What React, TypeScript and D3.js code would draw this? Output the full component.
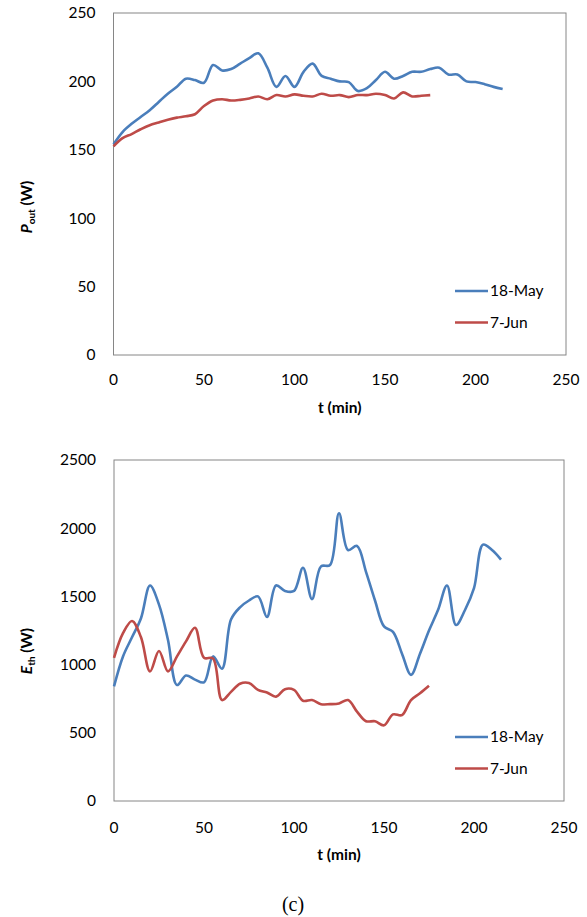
import React from "react";
import * as d3 from "d3";

const tTop = [0,5,10,15,20,25,30,35,40,45,50,55,60,65,70,75,80,85,90,95,100,105,110,115,120,125,130,135,140,145,150,155,160,165,170,175,180,185,190,195,200,205,210,215];
const pMay = [154,163,169,174,179,185,191,196,202,201,199,212,208,209,213,217,220.5,210,196,204,196,207,213,204,202,200,199.5,193,195,201,207,202,204,207,207,209,210,205,205,200,199.5,198,196,194.5];
const tJun = [0,5,10,15,20,25,30,35,40,45,50,55,60,65,70,75,80,85,90,95,100,105,110,115,120,125,130,135,140,145,150,155,160,165,170,175];
const pJun = [152.5,158.5,161.5,165,168,170,172,173.5,174.5,176,182,186,187,186,186.5,187.5,189,187,190,189,190.5,189.5,189,191,189.5,190,188.5,190,190,191,190,187.5,192,189,189.5,190];

const eMay = [840,1060,1200,1340,1580,1440,1180,850,920,890,870,1060,970,1330,1420,1470,1500,1350,1580,1540,1540,1710,1480,1720,1730,2110,1840,1870,1680,1470,1280,1240,1080,925,1080,1250,1400,1580,1290,1400,1560,1880,1840,1770];
const eJun = [1050,1230,1320,1200,950,1100,950,1060,1170,1270,1050,1045,740,800,860,865,815,795,765,820,815,735,740,710,710,715,740,655,585,585,555,635,630,740,790,845];

const xTicks = [0,50,100,150,200,250];
const yTicksTop = [0,50,100,150,200,250];
const yTicksBot = [0,500,1000,1500,2000,2500];
const seriesNames = ["18-May","7-Jun"];
const colors = ["#4A7EBB","#BE4B48"];

const FONT = "Lato, 'Open Sans', sans-serif";

function Panel({ top, bottom, left, right, yMax, yTicks, s1, s2, yLabelMain, yLabelSub, yLabelY, legendY, xLabelY, tickY }) {
  const x = d3.scaleLinear().domain([0, 250]).range([left, right]);
  const y = d3.scaleLinear().domain([0, yMax]).range([bottom, top]);
  const line = d3.line<[number, number]>().x(d => x(d[0])).y(d => y(d[1])).curve(d3.curveCatmullRom.alpha(0.5));
  const d1 = line(tTop.map((t, i) => [t, s1[i]] as [number, number]));
  const d2 = line(tJun.map((t, i) => [t, s2[i]] as [number, number]));
  return (
    <g>
      <rect x={left} y={top} width={right - left} height={bottom - top} fill="none" stroke="#868686" strokeWidth={1} />
      <path d={d1 || ""} fill="none" stroke={colors[0]} strokeWidth={2.6} />
      <path d={d2 || ""} fill="none" stroke={colors[1]} strokeWidth={2.6} />
      {yTicks.map(v => (
        <text key={v} x={left - 18} y={y(v)} dy="0.35em" textAnchor="end" fontSize={15.5} fontFamily={FONT} fill="#000">{v}</text>
      ))}
      {xTicks.map(v => (
        <text key={v} x={x(v)} y={tickY} dy="0.35em" textAnchor="middle" fontSize={15.5} fontFamily={FONT} fill="#000">{v}</text>
      ))}
      <text x={x(125)} y={xLabelY} dy="0.35em" textAnchor="middle" fontSize={15.5} fontWeight="bold" fontFamily={FONT}>t (min)</text>
      <text transform={`translate(27,${yLabelY}) rotate(-90)`} textAnchor="middle" dy="0.35em" fontSize={15.5} fontWeight="bold" fontFamily={FONT}>
        <tspan fontStyle="italic">{yLabelMain}</tspan>
        <tspan fontSize={10} dy="3">{yLabelSub}</tspan>
        <tspan dy="-3"> (W)</tspan>
      </text>
      {seriesNames.map((n, i) => (
        <g key={n}>
          <line x1={455} x2={488} y1={legendY + i * 31.5} y2={legendY + i * 31.5} stroke={colors[i]} strokeWidth={2.6} />
          <text x={490} y={legendY + i * 31.5} dy="0.35em" fontSize={15.5} fontFamily={FONT}>{n}</text>
        </g>
      ))}
    </g>
  );
}

export default function App() {
  return (
    <svg width={587} height={917} style={{ position: "absolute", left: 0, top: 0, background: "#fff" }}>
      <rect width={587} height={917} fill="#fff" />
      <Panel top={13} bottom={355} left={113.5} right={566} yMax={250} yTicks={yTicksTop} s1={pMay} s2={pJun}
        yLabelMain="P" yLabelSub="out" yLabelY={207} legendY={291} xLabelY={408} tickY={380} />
      <Panel top={460} bottom={801} left={114} right={564} yMax={2500} yTicks={yTicksBot} s1={eMay} s2={eJun}
        yLabelMain="E" yLabelSub="th" yLabelY={651} legendY={737} xLabelY={855} tickY={828} />
      <text x={293} y={904} dy="0.35em" textAnchor="middle" fontSize={20} fontFamily="'Liberation Serif', 'DejaVu Serif', serif">(c)</text>
    </svg>
  );
}
